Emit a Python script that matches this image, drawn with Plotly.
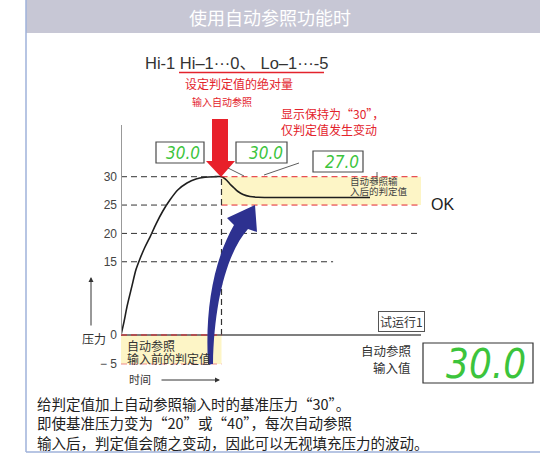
import plotly.graph_objects as go

# ---------------- data ----------------
time = [0, 1.0, 2.0, 3.6, 5.0, 6.3, 8.0, 9.7, 11.7, 14.0, 16.3, 19.0, 22.0, 25.0, 28.0, 31.0, 33.5,
        34.3, 35.3, 36.3, 37.7, 39.0, 40.7, 43.0, 45.7, 49.7, 83.0]
pressure = [0, 2.7, 5.8, 9.9, 13.4, 15.5, 17.6, 19.4, 21.7, 24.0, 25.9, 27.7, 28.9, 29.6, 29.9, 30.0, 30.0,
            29.77, 29.33, 28.71, 28.01, 27.39, 26.86, 26.51, 26.37, 26.33, 26.33]
t_ref = 33.5          # moment of auto-reference input
t_end = 100.3
t_15_end = 70.7
ref_pressure = 30     # base pressure at auto-reference input
hi_set = 0            # Hi-1 set value
lo_set = -5           # Lo-1 set value
ytick_vals = [30, 25, 20, 15, 0, -5]
ytick_text = ["30", "25", "20", "15", "0", "− 5"]
display_readings = ["30.0", "30.0", "27.0"]
input_reading = "30.0"

title_text = "使用自动参照功能时"
setting_text = "Hi-1 Hi–1···0、 Lo–1···-5"
abs_text = "设定判定值的绝对量"
input_text = "输入自动参照"
hold_text = ["显示保持为“30”，", "仅判定值发生变动"]
after_text = ["自动参照输", "入后的判定值"]
before_text = ["自动参照", "输入前的判定值"]
input_val_text = ["自动参照", "输入值"]
trial_text = "试运行1"
ok_text = "OK"
ylabel_text = "压力"
xlabel_text = "时间"
note_lines = ["给判定值加上自动参照输入时的基准压力“30”。",
              "即使基准压力变为“20”或“40”，每次自动参照",
              "输入后，判定值会随之变动，因此可以无视填充压力的波动。"]


# broken pressure axis (0-15 compressed, as in the reference)
def disp(v):
    if v >= 15:
        return v
    if v >= 0:
        return 2.08 + v * (15 - 2.08) / 15
    return 2.08 + v * (2.08 + 3.03) / 5


W, H = 540, 456
LAT = "Liberation Sans, Arial, Noto Sans CJK SC, sans-serif"
CJK = "Noto Sans CJK SC, sans-serif"
LCD = "Liberation Sans Narrow, DejaVu Sans Condensed, Liberation Sans, sans-serif"
RED = "#e3232c"
DARK = "#333333"
GREEN = "#3cc43c"

fig = go.Figure()

# pressure curve
fig.add_trace(go.Scatter(x=time, y=[disp(v) for v in pressure], mode="lines",
                         line=dict(color="#1e1e1e", width=1.6, shape="spline", smoothing=0.8),
                         hoverinfo="skip", showlegend=False))
# dummy trace for the full-figure (pixel) axes
fig.add_trace(go.Scatter(x=[0], y=[0], xaxis="x2", yaxis="y2", mode="markers",
                         marker=dict(opacity=0), hoverinfo="skip", showlegend=False))

shapes = []
# --- data-space shapes ---
hi_after, lo_after = ref_pressure + hi_set, ref_pressure + lo_set
shapes.append(dict(type="rect", xref="x", yref="y", x0=t_ref, x1=t_end, y0=disp(lo_after), y1=disp(hi_after),
                   fillcolor="#fdf5c6", line=dict(width=0), layer="below"))
shapes.append(dict(type="rect", xref="x", yref="y", x0=0, x1=t_ref, y0=disp(lo_set), y1=disp(hi_set),
                   fillcolor="#fdf5c6", line=dict(width=0), layer="below"))
dash = "6px,4px"
for v in (hi_after, lo_after):
    shapes.append(dict(type="line", xref="x", yref="y", x0=0, x1=t_ref, y0=disp(v), y1=disp(v),
                       line=dict(color="#333", width=1, dash=dash)))
    shapes.append(dict(type="line", xref="x", yref="y", x0=t_ref, x1=t_end, y0=disp(v), y1=disp(v),
                       line=dict(color=RED, width=1, dash=dash)))
shapes.append(dict(type="line", xref="x", yref="y", x0=0, x1=t_end, y0=disp(20), y1=disp(20),
                   line=dict(color="#333", width=1, dash=dash)))
shapes.append(dict(type="line", xref="x", yref="y", x0=0, x1=t_15_end, y0=disp(15), y1=disp(15),
                   line=dict(color="#333", width=1, dash=dash)))
shapes.append(dict(type="line", xref="x", yref="y", x0=t_ref, x1=t_ref, y0=disp(0), y1=disp(ref_pressure),
                   line=dict(color="#333", width=1.2, dash=dash)))
# axes
shapes.append(dict(type="line", xref="x", yref="y", x0=0, x1=t_end, y0=disp(0), y1=disp(0),
                   line=dict(color="#555", width=1.5)))
shapes.append(dict(type="line", xref="x", yref="y", x0=0, x1=0, y0=disp(0), y1=39.12,
                   line=dict(color="#999", width=2)))
shapes.append(dict(type="line", xref="x", yref="y", x0=0, x1=t_ref, y0=disp(hi_set), y1=disp(hi_set),
                   line=dict(color=RED, width=1.2, dash=dash)))
shapes.append(dict(type="line", xref="x", yref="y", x0=0, x1=t_ref, y0=disp(lo_set), y1=disp(lo_set),
                   line=dict(color="#f08a8a", width=1.2, dash=dash)))

# --- pixel-space decorations (full-figure axes x2/y2) ---
def P(**kw):
    d = dict(xref="x2", yref="y2")
    d.update(kw)
    return d

# header bar and frame
shapes.append(P(type="rect", x0=26, x1=540, y0=0, y1=33, fillcolor="#c7c7d5", line=dict(width=0)))
shapes.append(P(type="line", x0=26, x1=26, y0=0, y1=452, line=dict(color="#9fb2da", width=1.5)))
shapes.append(P(type="line", x0=26, x1=540, y0=452, y1=452, line=dict(color="#9fb2da", width=1.5)))
# red underline under setting
shapes.append(P(type="line", x0=179, x1=324, y0=72.5, y1=72.5, line=dict(color=RED, width=1.3)))
# red arrow
shapes.append(P(type="path", path="M 212 119 L 228 119 L 228 161 L 235 161 L 221 177 L 206 161 L 212 161 Z",
                fillcolor="#e8202a", line=dict(width=0)))
# blue curved arrow
shapes.append(P(type="path",
                path="M 208 364 C 205 310, 213 262, 234 225 L 227 218 L 255 205 L 257 232 L 248 229 "
                     "C 228 251, 214 300, 213 364 Z",
                fillcolor="#2d3190", line=dict(width=0)))
# display boxes
boxes = [(156, 142, 204, 163), (236, 142, 287, 163), (313, 151, 363, 172)]
for (x0, y0, x1, y1) in boxes:
    shapes.append(P(type="rect", x0=x0, x1=x1, y0=y0, y1=y1, fillcolor="white",
                    line=dict(color="#4a4a4a", width=1.2)))
shapes.append(P(type="rect", x0=423, x1=533, y0=343, y1=383, fillcolor="white",
                line=dict(color="#333", width=1.2)))
# leader lines
shapes.append(P(type="line", x0=228, x1=244, y0=168, y1=176, line=dict(color="#333", width=0.8)))
shapes.append(P(type="line", x0=299, x1=264, y0=163, y1=175, line=dict(color="#333", width=0.8)))
shapes.append(P(type="line", x0=377, x1=377, y0=172, y1=185, line=dict(color="#333", width=0.8)))

ann = []
def A(text, x, y, size=12, color=DARK, family=CJK, xanchor="left", yanchor="middle", **kw):
    font = dict(size=size, color=color, family=family)
    if "style" in kw:
        font["style"] = kw.pop("style")
    d = dict(text=text, x=x, y=y, xref="x2", yref="y2", showarrow=False, xanchor=xanchor,
             yanchor=yanchor, font=font)
    d.update(kw)
    ann.append(d)

A(title_text, 270, 17, size=18, color="white", xanchor="center")
A(setting_text, 143, 63, size=16.5, color="#333", family=LAT)
A(abs_text, 183, 83, size=12, color=RED)
A(input_text, 222, 101, size=10, color=RED, xanchor="center")
A(hold_text[0], 279, 113, size=12, color=RED)
A(hold_text[1], 279, 129, size=12, color=RED)
for (x0, y0, x1, y1), r in zip(boxes, display_readings):
    A(r, x1 - 2, (y0 + y1) / 2 + 0.5, size=17, color=GREEN, family=LCD, xanchor="right",
      style="italic")
A(input_reading, 528, 363.5, size=40, color=GREEN, family=LCD, xanchor="right", style="italic")
A(after_text[0], 348, 181, size=9.5, color="#444")
A(after_text[1], 348, 191, size=9.5, color="#444")
A(ok_text, 429, 204, size=16, color="#222", family=LAT)
A(trial_text, 378, 321, size=12, color="#333", bordercolor="#555", borderwidth=1, borderpad=1,
  bgcolor="white")
A(ylabel_text, 80, 338, size=12, color="#333")
A(before_text[0], 125, 345, size=12, color="#333")
A(before_text[1], 125, 358, size=12, color="#333")
A(input_val_text[0], 413, 350, size=12.5, color="#333", xanchor="right")
A(input_val_text[1], 413, 367, size=12.5, color="#333", xanchor="right")
A(xlabel_text, 127, 379, size=11, color="#333")
for i, line in enumerate(note_lines):
    A(line, 35, 403 + 19.5 * i, size=14.5, color="#222")

# arrows for axis captions
ann.append(dict(x=91, y=277, ax=91, ay=327, xref="x2", yref="y2", axref="x2", ayref="y2", text="",
                showarrow=True, arrowhead=2, arrowsize=1, arrowwidth=1, arrowcolor="#333"))
ann.append(dict(x=220, y=380, ax=160, ay=380, xref="x2", yref="y2", axref="x2", ayref="y2", text="",
                showarrow=True, arrowhead=2, arrowsize=1, arrowwidth=1, arrowcolor="#333"))

fig.update_layout(
    width=W, height=H, margin=dict(l=0, r=0, t=0, b=0, autoexpand=False),
    paper_bgcolor="white", plot_bgcolor="rgba(0,0,0,0)", showlegend=False,
    xaxis=dict(domain=[121 / W, 421 / W], range=[0, 100], visible=False, fixedrange=True,
               anchor="y"),
    yaxis=dict(domain=[(H - 370) / H, (H - 125) / H], range=[-4.09, 39.12], showgrid=False,
               zeroline=False, showline=False, ticks="", tickvals=[disp(v) for v in ytick_vals],
               ticktext=ytick_text, tickfont=dict(size=12, color="#444", family=LAT),
               ticklabelstandoff=3, fixedrange=True, anchor="x", automargin=False),
    xaxis2=dict(domain=[0, 1], range=[0, W], visible=False, anchor="y2", fixedrange=True),
    yaxis2=dict(domain=[0, 1], range=[H, 0], visible=False, anchor="x2", fixedrange=True),
    shapes=shapes, annotations=ann,
)

fig.write_html("out.html", config={"displayModeBar": False},
               post_script="document.body.style.margin='0px';document.body.style.overflow='hidden';")
